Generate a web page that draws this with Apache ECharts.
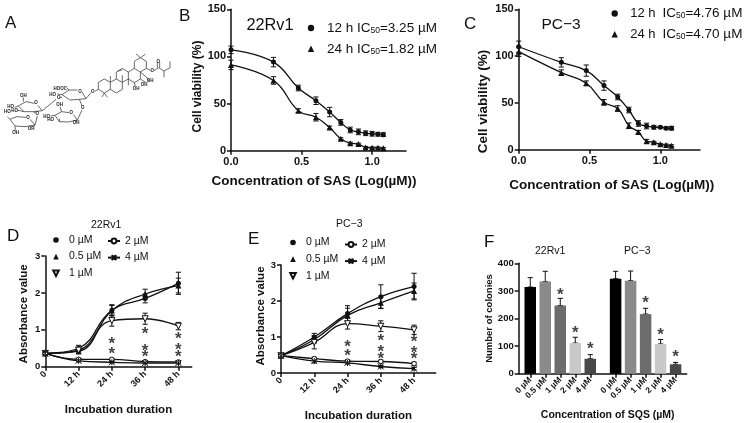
<!DOCTYPE html>
<html><head><meta charset="utf-8">
<style>html,body{margin:0;padding:0;background:#fff}#c{width:745px;height:423px}</style>
<script src="https://cdn.jsdelivr.net/npm/echarts@6/dist/echarts.min.js"></script>
</head><body><div id="c"></div>
<script>
// ---------- data ----------
const logConc = [0, 0.301, 0.477, 0.602, 0.699, 0.778, 0.845, 0.903, 0.954, 1.0, 1.041, 1.079];
const b12 = [107, 94, 66.5, 53, 41, 30, 22, 20, 18.5, 18, 17.5, 17];
const b12Err = [4, 5, 3, 4, 5, 3, 3, 3, 2.5, 2.5, 2, 2];
const b24 = [91, 74.5, 42.5, 35.5, 24.5, 12.7, 8, 7, 3.5, 3, 3, 2.5];
const b24Err = [5, 4, 2, 4, 1.5, 1, 1, 1, 1, 1, 1, 1];
const c12 = [110, 93.3, 84.5, 68.5, 56.3, 42.4, 28, 25.3, 24, 24, 23, 23];
const c12Err = [6, 5, 6, 5, 3, 3, 3, 3, 2, 1, 1.5, 2];
const c24 = [104.7, 82.3, 71, 50.6, 44, 25.6, 19, 9, 8, 5.7, 5, 4.3];
const c24Err = [5, 3, 2.5, 3, 3, 3, 1.5, 2, 1, 1, 1, 1];
const ic50B = ['3.25', '1.82'];
const ic50C = ['4.76', '4.70'];
const hours = [0, 12, 24, 36, 48];
const hourLabels = ['0', '12 h', '24 h', '36 h', '48 h'];
const doseNames = ['0 µM', '0.5 µM', '1 µM', '2 µM', '4 µM'];
const d0 = [0.36, 0.5, 1.53, 1.85, 2.26];
const d05 = [0.36, 0.42, 1.52, 1.97, 2.2];
const d1 = [0.36, 0.45, 1.25, 1.3, 1.1];
const d2 = [0.36, 0.2, 0.2, 0.14, 0.13];
const d4 = [0.36, 0.16, 0.12, 0.1, 0.1];
const d0Err = [0.03, 0.08, 0.15, 0.12, 0.3];
const d05Err = [0.03, 0.07, 0.14, 0.13, 0.2];
const d1Err = [0.03, 0.05, 0.15, 0.15, 0.1];
const d2Err = [0.02, 0.03, 0.03, 0.03, 0.03];
const d4Err = [0.02, 0.03, 0.02, 0.02, 0.02];
const e0 = [0.48, 1.0, 1.65, 2.12, 2.4];
const e05 = [0.48, 0.93, 1.6, 1.95, 2.28];
const e1 = [0.48, 0.85, 1.37, 1.3, 1.2];
const e2 = [0.48, 0.4, 0.33, 0.32, 0.26];
const e4 = [0.48, 0.33, 0.28, 0.18, 0.12];
const e0Err = [0.03, 0.1, 0.22, 0.33, 0.37];
const e05Err = [0.03, 0.1, 0.2, 0.15, 0.22];
const e1Err = [0.03, 0.18, 0.15, 0.15, 0.13];
const e2Err = [0.03, 0.04, 0.04, 0.04, 0.04];
const e4Err = [0.03, 0.05, 0.03, 0.03, 0.03];
const dStars = [[24, 0.68], [24, 0.42], [36, 0.95], [36, 0.51], [36, 0.34], [48, 0.81], [48, 0.52], [48, 0.34]];
const eStars = [[24, 0.79], [24, 0.55], [36, 0.96], [36, 0.66], [36, 0.46], [48, 0.93], [48, 0.64], [48, 0.46]];
const colonyRv = [314, 334, 247, 111, 54];
const colonyRvTop = [348, 371, 273, 132, 69];
const colonyPc = [344, 337, 216, 108, 34];
const colonyPcTop = [371, 372, 237, 124, 41];
const colonyRvStars = [null, null, 295, 156, 98];
const colonyPcStars = [null, null, 267, 150, 72];
const barGrays = ['#000000', '#8a8a8a', '#6c6c6c', '#c8c8c8', '#484848'];

// ---------- helpers ----------
const FONT = '"Liberation Sans", Arial, sans-serif';
const INK = '#111';
const triDown = 'path://M0 0L10 0L5 9Z';
const cross = 'path://M0 0L10 10M10 0L0 10M5 0L5 10';
const grids = [
  {left: 231, top: 9.3, width: 175, height: 141.4},
  {left: 518.7, top: 9.3, width: 181.3, height: 140.4},
  {left: 45.3, top: 256, width: 146.4, height: 110.7},
  {left: 281, top: 265, width: 154.7, height: 110.3},
  {left: 518.7, top: 263.3, width: 168, height: 110.4}
];
const axisLine = {lineStyle: {color: INK, width: 1.5}};
const tick = {length: 4, lineStyle: {color: INK, width: 1.5}};
function nameStyle(size, pad) { return {fontFamily: FONT, fontWeight: 'bold', fontSize: size, color: INK, padding: pad || 0}; }
function valueY(i, max, interval, name, size, gap, labelSize, pad) {
  return {type: 'value', gridIndex: i, min: 0, max, interval, splitLine: {show: false},
    axisLine: {show: true, ...axisLine}, axisTick: {show: true, ...tick},
    axisLabel: {fontFamily: FONT, fontWeight: 'bold', fontSize: labelSize, color: INK, margin: 5},
    name, nameLocation: 'middle', nameGap: gap, nameTextStyle: nameStyle(size, pad)};
}
function logX(i, max, name, size, gap, pad) {
  const vals = [0, 0.5, 1];
  return {type: 'value', gridIndex: i, min: 0, max, splitLine: {show: false},
    axisLine: {show: true, onZero: false, ...axisLine},
    axisTick: {show: true, ...tick, customValues: vals},
    axisLabel: {customValues: vals, formatter: v => v.toFixed(1), fontFamily: FONT, fontWeight: 'bold', fontSize: 11, color: INK, margin: 6},
    name, nameLocation: 'middle', nameGap: gap, nameTextStyle: nameStyle(size, pad)};
}
function hourX(i, max, gap) {
  return {type: 'value', gridIndex: i, min: 0, max, splitLine: {show: false},
    axisLine: {show: true, onZero: false, ...axisLine},
    axisTick: {show: true, ...tick, customValues: hours},
    axisLabel: {customValues: hours, formatter: v => hourLabels[hours.indexOf(v)], rotate: 45, fontFamily: FONT, fontWeight: 'bold', fontSize: 9, color: INK, margin: 6},
    name: 'Incubation duration', nameLocation: 'middle', nameGap: gap, nameTextStyle: nameStyle(11.5)};
}
function curve(i, name, xs, ys, symbol, size, fill) {
  return {type: 'line', name, xAxisIndex: i, yAxisIndex: i, data: xs.map((x, k) => [x, ys[k]]),
    smooth: 0.45, symbol, symbolSize: size, showSymbol: true, clip: false,
    lineStyle: {color: INK, width: 1.3}, z: 3,
    itemStyle: fill ? {color: '#fff', borderColor: INK, borderWidth: 1} : {color: INK, borderColor: INK, borderWidth: symbol === cross ? 1 : 0}};
}
function errRender(params, api) {
  const x = api.value(0), lo = api.value(1), hi = api.value(2);
  const a = api.coord([x, lo]), b = api.coord([x, hi]);
  const cap = 2.6, st = {stroke: INK, lineWidth: 1, fill: null};
  return {type: 'group', children: [
    {type: 'line', shape: {x1: a[0], y1: a[1], x2: b[0], y2: b[1]}, style: st},
    {type: 'line', shape: {x1: a[0] - cap, y1: a[1], x2: a[0] + cap, y2: a[1]}, style: st},
    {type: 'line', shape: {x1: b[0] - cap, y1: b[1], x2: b[0] + cap, y2: b[1]}, style: st}]};
}
function errors(i, xs, ys, err) {
  return {type: 'custom', xAxisIndex: i, yAxisIndex: i, renderItem: errRender, clip: false, z: 2, silent: true,
    data: xs.map((x, k) => [x, ys[k] - err[k], ys[k] + err[k]]), encode: {x: 0, y: [1, 2]}};
}
function stars(i, pts) {
  return {type: 'scatter', xAxisIndex: i, yAxisIndex: i, data: pts, symbolSize: 1, itemStyle: {color: 'transparent'}, silent: true, z: 5,
    label: {show: true, formatter: '*', position: 'inside', offset: [0, 3], fontFamily: FONT, fontWeight: 'bold', fontSize: 17, color: INK}};
}
function doseLegends(leftA, topA, leftB, topB) {
  const txt = {fontFamily: FONT, fontSize: 10.5, color: INK, lineHeight: 12};
  const hide = {opacity: 0};
  return [
    {left: leftA, top: topA, padding: 0, orient: 'vertical', itemWidth: 16, itemHeight: 7, itemGap: 4.6, textStyle: txt, selectedMode: false,
     data: [{name: doseNames[0], lineStyle: hide}, {name: doseNames[1], lineStyle: hide}, {name: doseNames[2], lineStyle: hide}]},
    {left: leftB, top: topB, padding: 0, orient: 'vertical', itemWidth: 12, itemHeight: 6, itemGap: 4.6, textStyle: txt, selectedMode: false,
     data: [doseNames[3], doseNames[4]]}
  ];
}
function icLegend(left, top, w, size, ic, gap) {
  return {left, top, padding: 0, orient: 'vertical', itemWidth: w, itemHeight: 8, itemGap: 6.8, selectedMode: false,
    data: [{name: '12 h', lineStyle: {opacity: 0}}, {name: '24 h', lineStyle: {opacity: 0}}],
    formatter: n => n + (gap ? '{g|}' : ' ') + '{n|IC}{s|50}{n|=' + ic[n === '12 h' ? 0 : 1] + ' µM}',
    textStyle: {fontFamily: FONT, fontSize: size, color: INK, lineHeight: 14,
      rich: {n: {fontFamily: FONT, fontSize: 13.5, color: INK}, s: {fontFamily: FONT, fontSize: 8.5, color: INK, verticalAlign: 'bottom', padding: [3, 0, 0, 0]}, g: {width: gap || 0}}}};
}
function label(text, x, y, size, opt) {
  return {type: 'text', left: x, top: y, silent: true,
    style: Object.assign({text, fontFamily: FONT, fontSize: size, fill: INK, textVerticalAlign: 'middle', verticalAlign: 'middle'}, opt || {})};
}

// ---------- colony panel F ----------
const firstSlot = 0.77, secondSlot = 6.46;
const slotsRv = colonyRv.map((_, i) => firstSlot + i);
const slotsPc = colonyPc.map((_, i) => secondSlot + i);
const allSlots = slotsRv.concat(slotsPc);
const doseAtSlot = v => doseNames[allSlots.findIndex(s => Math.abs(s - v) < 1e-6) % 5];
const bars = colonyRv.map((v, i) => ({value: [slotsRv[i], v], itemStyle: {color: barGrays[i]}}))
  .concat(colonyPc.map((v, i) => ({value: [slotsPc[i], v], itemStyle: {color: barGrays[i]}})));
const barErr = slotsRv.map((x, i) => [x, colonyRv[i], colonyRvTop[i]]).concat(slotsPc.map((x, i) => [x, colonyPc[i], colonyPcTop[i]]));
const barStars = [];
colonyRvStars.forEach((v, i) => { if (v !== null) barStars.push([slotsRv[i], v]); });
colonyPcStars.forEach((v, i) => { if (v !== null) barStars.push([slotsPc[i], v]); });

// ---------- structure drawing of panel A (page pixels x3) ----------
const bonds = [
 [[295,247],[313,237],[331,247],[331,268],[313,279],[295,268],[295,247]],
 [[331,247],[349,237],[367,247],[367,268],[349,279],[331,268]],
 [[349,237],[349,216],[367,205],[385,216],[385,237],[367,247]],
 [[385,216],[403,205],[421,216],[421,237],[403,248],[385,237]],
 [[403,205],[403,184],[421,173],[439,184],[439,205],[421,216]],
 [[353,214],[367,209]],
 [[313,279],[306,291]],[[313,279],[322,292]],[[331,247],[331,228]],[[367,247],[367,226]],[[385,237],[385,256]],
 [[421,173],[408,162]],[[421,173],[436,163]],[[295,268],[284,274]],
 [[439,205],[452,212]],[[462,212],[476,203],[492,213],[510,203],[510,184]],[[472,203],[472,187]],[[479,203],[479,187]],[[492,213],[492,232]],
 [[421,237],[438,248]],[[421,216],[440,232],[447,243]],[[403,248],[406,258]],
 [[186,284],[207,270],[232,270]],[[246,276],[258,296],[238,298],[210,300],[186,284]],[[258,296],[272,279]],
 [[238,298],[246,317]],[[246,330],[232,360]],
 [[165,346],[185,335],[208,338]],[[220,344],[232,360],[205,366],[178,365],[165,346]],
 [[186,291],[178,293]],[[168,298],[127,332]],
 [[55,318],[78,305],[103,310]],[[113,316],[127,332],[100,335],[72,335],[55,318]],
 [[100,335],[108,340]],[[112,348],[105,375]],
 [[30,358],[50,350],[78,352]],[[90,358],[105,375],[75,380],[45,378],[30,358]],
 [[207,270],[200,262]],[[186,284],[172,282]],[[70,305],[70,292]],[[55,318],[44,322]],[[72,335],[50,330]],[[30,358],[22,350]],[[45,378],[46,392]],
 [[105,375],[94,382]],[[178,365],[178,356]],[[165,346],[152,348]],[[185,335],[180,320]],[[232,360],[228,367]]
];
const atoms = [
 ['O',278,275],['O',457,213],['O',475,184],['OH',408,265],['OH',432,254],['OH',450,243],
 ['HOOC',181,266],['HO',158,284],['O',240,275],['O',176,294],['O',248,323],['O',214,339],
 ['OH',179,315],['HO',140,349],['HO',152,360],['OH',228,368],['OH',70,287],['HO',32,320],['HO',44,331],
 ['HO',22,334],['O',108,309],['O',112,340],['O',84,352],['OH',93,385],['OH',47,398]
];
const molecule = bonds.map(p => ({type: 'polyline', silent: true, shape: {points: p.map(q => [q[0] / 3, q[1] / 3])}, style: {stroke: '#444', lineWidth: 0.8, fill: null}}))
  .concat(atoms.map(a => ({type: 'text', silent: true, x: a[1] / 3, y: a[2] / 3,
    style: {text: a[0], fontFamily: FONT, fontWeight: 'bold', fontSize: 4.5, fill: '#222', align: 'center', verticalAlign: 'middle'}})));

const graphic = [
  label('A', 5, 15, 17), label('B', 179, 8, 17), label('C', 464, 16, 17),
  label('D', 7, 228, 17), label('E', 248, 231, 17), label('F', 484, 234, 17),
  label('22Rv1', 246.5, 18, 16.3), label('PC\u22123', 541.5, 17, 15.5),
  label('22Rv1', 91, 220, 10.5), label('PC\u22123', 336, 219, 10.5),
  label('22Rv1', 535, 246, 10.5), label('PC\u22123', 624, 246, 10.5),
  ...molecule
];

const series = [
  errors(0, logConc, b12, b12Err), errors(0, logConc, b24, b24Err),
  curve(0, '12 h', logConc, b12, 'circle', 5), curve(0, '24 h', logConc, b24, 'triangle', 6),
  errors(1, logConc, c12, c12Err), errors(1, logConc, c24, c24Err),
  curve(1, '12 h', logConc, c12, 'circle', 5), curve(1, '24 h', logConc, c24, 'triangle', 6),
  errors(2, hours, d0, d0Err), errors(2, hours, d05, d05Err), errors(2, hours, d1, d1Err), errors(2, hours, d2, d2Err), errors(2, hours, d4, d4Err),
  curve(2, doseNames[0], hours, d0, 'circle', 5), curve(2, doseNames[1], hours, d05, 'triangle', 6),
  curve(2, doseNames[2], hours, d1, triDown, 6, true), curve(2, doseNames[3], hours, d2, 'circle', 4.5, true),
  curve(2, doseNames[4], hours, d4, cross, 6),
  stars(2, dStars),
  errors(3, hours, e0, e0Err), errors(3, hours, e05, e05Err), errors(3, hours, e1, e1Err), errors(3, hours, e2, e2Err), errors(3, hours, e4, e4Err),
  curve(3, doseNames[0], hours, e0, 'circle', 5), curve(3, doseNames[1], hours, e05, 'triangle', 6),
  curve(3, doseNames[2], hours, e1, triDown, 6, true), curve(3, doseNames[3], hours, e2, 'circle', 4.5, true),
  curve(3, doseNames[4], hours, e4, cross, 6),
  stars(3, eStars),
  {type: 'bar', xAxisIndex: 4, yAxisIndex: 4, barWidth: 11.5, data: bars, silent: true},
  {type: 'custom', xAxisIndex: 4, yAxisIndex: 4, z: 1, silent: true, data: barErr, encode: {x: 0, y: [1, 2]}, renderItem: errRender},
  stars(4, barStars)
];

const option = {
  animation: false, backgroundColor: '#fff', textStyle: {fontFamily: FONT},
  grid: grids,
  xAxis: [
    logX(0, 1.24, 'Concentration of SAS (Log(µM))', 13.5, 24, [0, 9, 0, 0]),
    logX(1, 1.28, 'Concentration of SAS (Log(µM))', 13.5, 29, [0, 0, 0, 5]),
    hourX(2, 52.8, 37), hourX(3, 55.8, 37),
    {type: 'value', gridIndex: 4, min: 0, max: 11.2, splitLine: {show: false},
     axisLine: {show: true, onZero: false, ...axisLine},
     axisTick: {show: true, ...tick, customValues: allSlots},
     axisLabel: {customValues: allSlots, formatter: doseAtSlot, rotate: 45, fontFamily: FONT, fontWeight: 'bold', fontSize: 8.5, color: INK, margin: 5},
     name: 'Concentration of SQS (µM)', nameLocation: 'middle', nameGap: 36, nameTextStyle: nameStyle(10.5, [0, 0, 0, 10])}
  ],
  yAxis: [
    valueY(0, 150, 50, 'Cell viability (%)', 12, 27, 11, [0, 13, 0, 0]),
    valueY(1, 150, 50, 'Cell viability (%)', 13.5, 28, 11, [0, 44, 0, 0]),
    valueY(2, 3, 1, 'Absorbance value', 11.5, 15, 9.5, [0, 5, 0, 0]),
    valueY(3, 3, 1, 'Absorbance value', 11.5, 14, 9.5, [0, 0, 0, 6]),
    valueY(4, 400, 100, 'Number of colonies', 9.5, 16, 9.5)
  ],
  legend: [
    icLegend(299, 21, 22, 13.5, ic50B, 0),
    icLegend(603.2, 6.5, 21, 13, ic50C, 7),
    ...doseLegends(47, 234, 107, 235),
    ...doseLegends(284, 236.5, 344, 238.5)
  ],
  graphic,
  series
};
const chart = echarts.init(document.getElementById('c'), null, {renderer: 'canvas'});
chart.setOption(option);
</script></body></html>
